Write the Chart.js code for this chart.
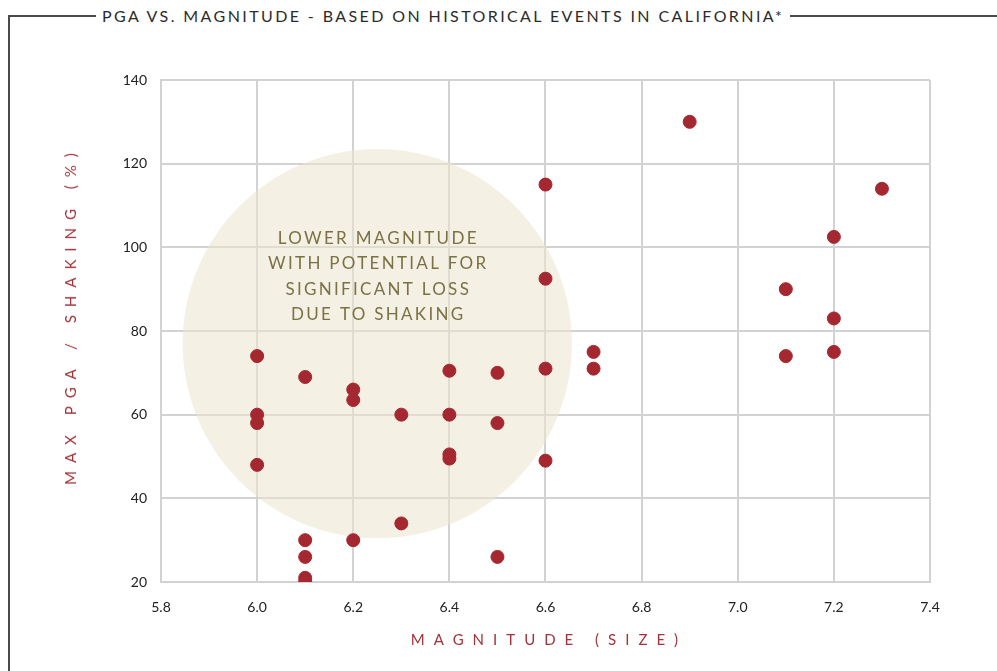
<!DOCTYPE html>
<html>
<head>
<meta charset="utf-8">
<script src="https://cdn.jsdelivr.net/npm/chart.js@4/dist/chart.umd.min.js"></script>
<style>
  html, body { margin: 0; padding: 0; background: #fff; }
  #wrap { position: relative; width: 997px; height: 671px; overflow: hidden; }
  #frame {
    position: absolute; left: 8px; top: 6px; width: 989px; height: 700px;
    margin: 0; padding: 0; box-sizing: border-box;
    border: none; border-top: 2px solid #4a4a4a; border-left: 2px solid #4a4a4a;
  }
  #frame legend {
    margin-left: 86px; padding: 0 6px;
    font-family: Lato, sans-serif; font-size: 16px; color: #2b2b2b; letter-spacing: 2.4px;
  }
  #chart { position: absolute; left: 0; top: 0; }
  .axis-title {
    position: absolute; font-family: Lato, sans-serif; font-size: 15px;
    color: #a2333a; white-space: nowrap;
  }
  #xTitle { left: 0; width: 1098px; top: 630px; text-align: center; letter-spacing: 9px; }
  #yTitle { left: 70px; top: 315px; transform: translate(-50%, -50%) rotate(-90deg); letter-spacing: 8px; }
</style>
</head>
<body>
<div id="wrap">
  <fieldset id="frame"><legend>PGA VS. MAGNITUDE - BASED ON HISTORICAL EVENTS IN CALIFORNIA*</legend></fieldset>
  <canvas id="chart" width="997" height="671"></canvas>
  <div class="axis-title" id="xTitle">MAGNITUDE (SIZE)</div>
  <div class="axis-title" id="yTitle">MAX PGA / SHAKING (%)</div>
</div>
<script>
// events: magnitude vs max PGA (%)
const magnitudes = [
  6.0, 6.0, 6.0, 6.0,
  6.1, 6.1, 6.1, 6.1, 6.1,
  6.2, 6.2, 6.2,
  6.3, 6.3,
  6.4, 6.4, 6.4, 6.4,
  6.5, 6.5, 6.5,
  6.6, 6.6, 6.6, 6.6,
  6.7, 6.7,
  6.9,
  7.1, 7.1,
  7.2, 7.2, 7.2,
  7.3
];
const pgaValues = [
  74, 60, 58, 48,
  69, 30, 26, 21, 20,
  66, 63.5, 30,
  60, 34,
  70.5, 60, 50.5, 49.5,
  70, 58, 26,
  115, 92.5, 71, 49,
  75, 71,
  130,
  90, 74,
  102.5, 83, 75,
  114
];

const xTicks = [5.8, 6.0, 6.2, 6.4, 6.6, 6.8, 7.0, 7.2, 7.4];
const xTickLabels = ['5.8', '6.0', '6.2', '6.4', '6.6', '6.8', '7.0', '7.2', '7.4'];
const yTicks = [20, 40, 60, 80, 100, 120, 140];

// highlighted zone (data units)
const zoneCenter = { x: 6.25, y: 77 };
const zoneRadiusMag = 0.405;
const zoneLines = ['LOWER MAGNITUDE', 'WITH POTENTIAL FOR', 'SIGNIFICANT LOSS', 'DUE TO SHAKING'];

const points = magnitudes.map((m, i) => ({ x: m, y: pgaValues[i] }));

const zonePlugin = {
  id: 'zone',
  beforeDatasetsDraw(chart) {
    const { ctx, scales: { x, y } } = chart;
    const cx = x.getPixelForValue(zoneCenter.x);
    const cy = y.getPixelForValue(zoneCenter.y);
    const r = x.getPixelForValue(zoneCenter.x + zoneRadiusMag) - cx;
    ctx.save();
    ctx.beginPath();
    ctx.arc(cx, cy, r, 0, Math.PI * 2);
    ctx.fillStyle = 'rgba(236, 227, 205, 0.55)';
    ctx.fill();

    ctx.fillStyle = '#7a7145';
    ctx.font = '17px Lato, sans-serif';
    ctx.letterSpacing = '2.3px';
    ctx.textAlign = 'center';
    ctx.textBaseline = 'middle';
    const top = y.getPixelForValue(102.2);
    zoneLines.forEach((line, i) => {
      ctx.fillText(line, cx + 1, top + i * 25.5);
    });
    ctx.restore();
  }
};

new Chart(document.getElementById('chart'), {
  type: 'scatter',
  data: {
    datasets: [{
      label: 'Events',
      data: points,
      backgroundColor: '#a5272f',
      borderColor: '#a5272f',
      pointRadius: 6.5,
      pointHoverRadius: 6.5
    }]
  },
  options: {
    responsive: false,
    animation: false,
    layout: { padding: { left: 0, right: 67, top: 80, bottom: 0 } },
    plugins: {
      legend: { display: false },
      tooltip: { enabled: false }
    },
    scales: {
      x: {
        type: 'linear',
        min: 5.8,
        max: 7.4,
        afterBuildTicks: (scale) => { scale.ticks = xTicks.map(v => ({ value: v })); },
        afterFit: (scale) => { scale.height = 89; },
        grid: { color: '#d2d2d2', lineWidth: 2, drawTicks: false },
        border: { color: '#d2d2d2', width: 2 },
        ticks: {
          padding: 17,
          color: '#222',
          font: { family: 'Lato, sans-serif', size: 14 },
          callback: (v, i) => xTickLabels[i]
        }
      },
      y: {
        min: 20,
        max: 140,
        afterBuildTicks: (scale) => { scale.ticks = yTicks.map(v => ({ value: v })); },
        afterFit: (scale) => { scale.width = 161; },
        grid: { color: '#d2d2d2', lineWidth: 2, drawTicks: false },
        border: { color: '#d2d2d2', width: 2 },
        ticks: {
          padding: 14,
          color: '#222',
          font: { family: 'Lato, sans-serif', size: 14 }
        }
      }
    }
  },
  plugins: [zonePlugin]
});
</script>
</body>
</html>
